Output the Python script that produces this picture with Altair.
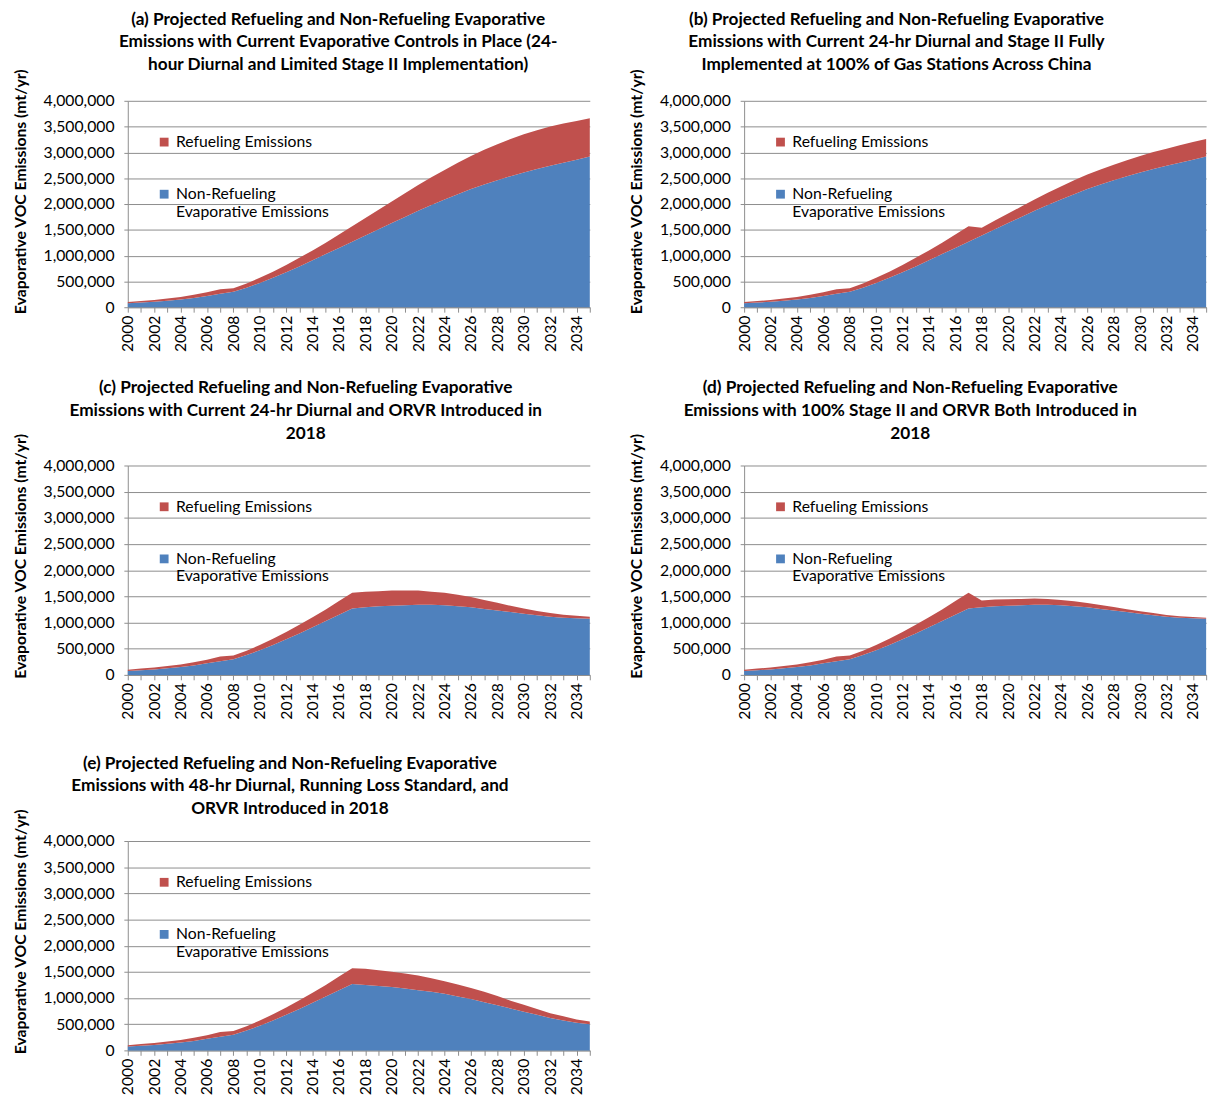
import altair as alt
import pandas as pd

YEARS = list(range(2000, 2036))
Y_TICKS = [0, 500000, 1000000, 1500000, 2000000, 2500000, 3000000, 3500000, 4000000]

REF_LABEL = "Refueling Emissions"
NONREF_LABEL = "Non-Refueling Evaporative Emissions"
RED = "#C0504D"
BLUE = "#4F81BD"

# 2000-2017 (common to all scenarios)
NONREF_EARLY = [75000, 90000, 105000, 125000, 150000, 180000, 220000, 260000, 300000,
                380000, 470000, 570000, 680000, 790000, 910000, 1030000, 1150000, 1270000]
REF_EARLY = [25000, 30000, 35000, 45000, 50000, 60000, 70000, 90000, 70000,
             80000, 100000, 120000, 140000, 170000, 190000, 220000, 260000, 300000]

# 2018-2035 per scenario
NONREF_A_LATE = [1390000, 1510000, 1630000, 1750000, 1870000, 1980000, 2090000, 2190000, 2290000,
                 2380000, 2460000, 2540000, 2610000, 2680000, 2740000, 2800000, 2860000, 2920000]
REF_A_LATE = [340000, 380000, 420000, 460000, 500000, 540000, 570000, 610000, 640000,
              670000, 700000, 720000, 740000, 750000, 760000, 760000, 750000, 740000]
REF_B_LATE = [150000, 170000, 185000, 200000, 220000, 240000, 250000, 270000, 280000,
              290000, 300000, 310000, 320000, 330000, 330000, 340000, 340000, 340000]
NONREF_C_LATE = [1290000, 1310000, 1320000, 1330000, 1340000, 1340000, 1330000, 1310000, 1290000,
                 1260000, 1230000, 1200000, 1170000, 1140000, 1110000, 1090000, 1080000, 1070000]
REF_C_LATE = [300000, 290000, 290000, 280000, 270000, 250000, 240000, 220000, 200000,
              170000, 150000, 120000, 100000, 80000, 70000, 60000, 50000, 40000]
REF_D_LATE = [130000, 130000, 125000, 120000, 120000, 110000, 100000, 95000, 85000,
              75000, 65000, 55000, 45000, 40000, 35000, 30000, 25000, 20000]
NONREF_E_LATE = [1250000, 1230000, 1210000, 1180000, 1150000, 1120000, 1080000, 1030000, 980000,
                 920000, 860000, 800000, 740000, 680000, 620000, 570000, 530000, 500000]
REF_E_LATE = [310000, 300000, 290000, 290000, 280000, 260000, 240000, 230000, 210000,
              200000, 180000, 150000, 130000, 110000, 90000, 80000, 60000, 50000]

TITLES = {
    "a": ["(a) Projected Refueling and Non-Refueling Evaporative",
          "Emissions with Current Evaporative Controls in Place (24-",
          "hour Diurnal and Limited Stage II Implementation)"],
    "b": ["(b) Projected Refueling and Non-Refueling  Evaporative",
          "Emissions with Current 24-hr Diurnal and Stage II Fully",
          "Implemented at 100% of Gas Stations Across China"],
    "c": ["(c) Projected Refueling and Non-Refueling Evaporative",
          "Emissions with Current 24-hr Diurnal and ORVR Introduced in",
          "2018"],
    "d": ["(d) Projected  Refueling and Non-Refueling Evaporative",
          "Emissions with 100% Stage II and ORVR Both Introduced in",
          "2018"],
    "e": ["(e) Projected Refueling and Non-Refueling Evaporative",
          "Emissions with 48-hr Diurnal, Running Loss Standard, and",
          "ORVR Introduced in 2018"],
}

FONT = "Lato"
GRID = "#8C8C8C"


def panel(key, nonref, ref, dx, offset, height):
    df = pd.DataFrame({
        "year": YEARS + YEARS,
        "series": [NONREF_LABEL] * len(YEARS) + [REF_LABEL] * len(YEARS),
        "value": nonref + ref,
        "stack": [0] * len(YEARS) + [1] * len(YEARS),
    })
    title = alt.TitleParams(
        TITLES[key], font=FONT, fontSize=17.5, fontWeight="bold", color="#000000",
        lineHeight=23, anchor="middle", frame="group", dx=dx, offset=offset,
    )
    return alt.Chart(df, title=title).mark_area(interpolate="linear").encode(
        x=alt.X("year:Q", title=None,
                scale=alt.Scale(domain=[2000, 2035], nice=False, zero=False),
                axis=alt.Axis(values=YEARS, format="d",
                              labelExpr="datum.value % 2 == 0 ? datum.label : ''",
                              labelAngle=270, grid=False, tickSize=5, labelPadding=3,
                              labelFont=FONT, labelFontSize=16, labelColor="#000000",
                              domainColor=GRID, tickColor=GRID, labelOverlap=False,
                              labelFlush=False)),
        y=alt.Y("value:Q", stack="zero",
                scale=alt.Scale(domain=[0, 4000000], nice=False),
                axis=alt.Axis(values=Y_TICKS, format=",d",
                              title="Evaporative VOC Emissions (mt/yr)",
                              titleFont=FONT, titleFontSize=16, titleFontWeight="bold",
                              titleColor="#000000", titlePadding=15, titleY=92,
                              labelFont=FONT, labelFontSize=16, labelColor="#000000",
                              tickSize=4, labelPadding=10, gridColor=GRID, gridWidth=1,
                              domainColor=GRID, tickColor=GRID)),
        color=alt.Color("series:N",
                        scale=alt.Scale(domain=[REF_LABEL, NONREF_LABEL], range=[RED, BLUE]),
                        legend=alt.Legend(
                            title=None, orient="none", legendX=29, legendY=34,
                            symbolType="square", symbolSize=80, symbolStrokeWidth=0,
                            labelFont=FONT, labelFontSize=16, labelColor="#000000",
                            rowPadding=37, labelOffset=4,
                            labelExpr="datum.label == 'Non-Refueling Evaporative Emissions' ? ['Non-Refueling', 'Evaporative Emissions'] : datum.label",
                        )),
        order=alt.Order("stack:Q"),
    ).properties(width=470, height=height)


a = panel("a", NONREF_EARLY + NONREF_A_LATE, REF_EARLY + REF_A_LATE, -21, -5, 210)
b = panel("b", NONREF_EARLY + NONREF_A_LATE, REF_EARLY + REF_B_LATE, -80, -5, 210)
c = panel("c", NONREF_EARLY + NONREF_C_LATE, REF_EARLY + REF_C_LATE, -54, -9, 213)
d = panel("d", NONREF_EARLY + NONREF_C_LATE, REF_EARLY + REF_D_LATE, -66, -9, 213)
e = panel("e", NONREF_EARLY + NONREF_E_LATE, REF_EARLY + REF_E_LATE, -70, -9, 213)

row1 = alt.hconcat(a, b, spacing=31).resolve_scale(color="independent").resolve_legend(color="independent")
row2 = alt.hconcat(c, d, spacing=31).resolve_scale(color="independent").resolve_legend(color="independent")
lower = alt.vconcat(row2, e, spacing=35).resolve_scale(color="independent").resolve_legend(color="independent")

chart = alt.vconcat(row1, lower, spacing=27).resolve_scale(
    color="independent").resolve_legend(color="independent").properties(
    padding={"left": 12, "top": 1, "right": 0, "bottom": 0},
    background="white",
).configure_view(stroke=None)

chart.save("out.html", embed_options={"renderer": "svg", "actions": False})
